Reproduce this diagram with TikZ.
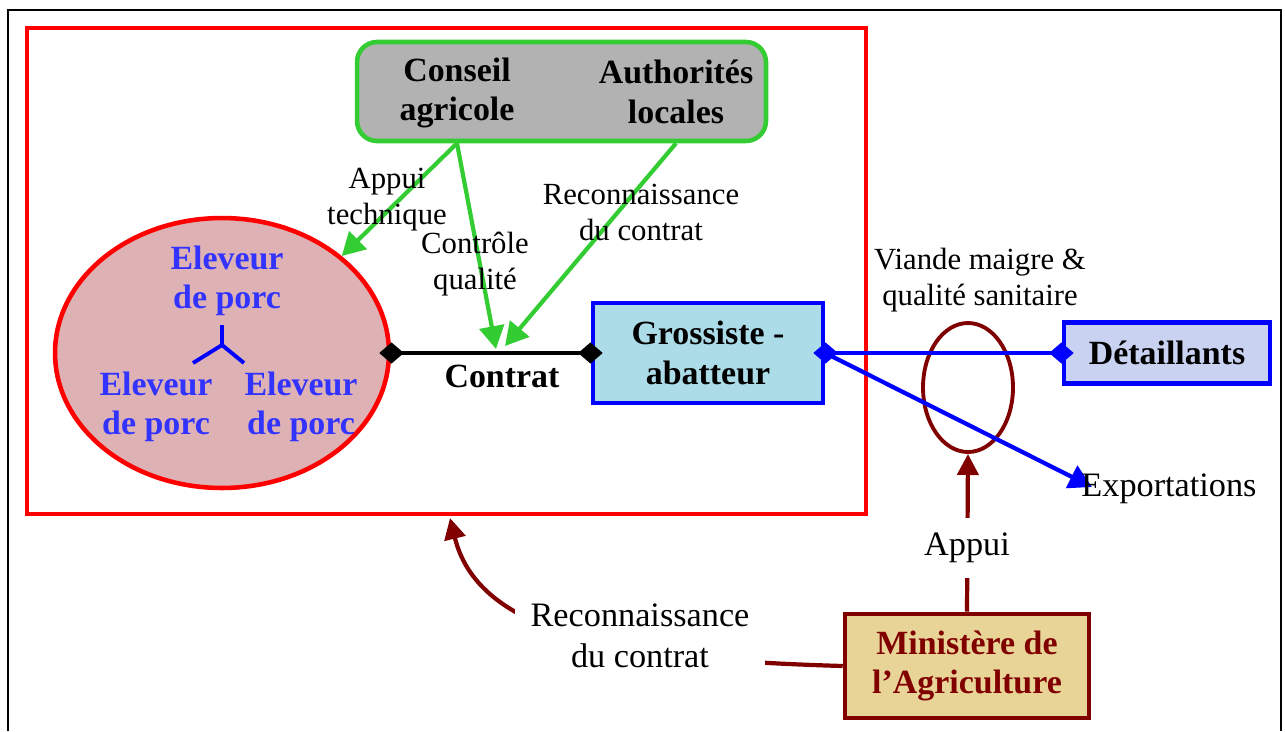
\documentclass[tikz,border=0pt]{standalone}
\usepackage{fontspec}
\setmainfont{Liberation Serif}
\usetikzlibrary{arrows.meta,calc,shapes.geometric}

\definecolor{vert}{RGB}{51,204,51}
\definecolor{gris}{RGB}{178,178,178}
\definecolor{rose}{RGB}{222,178,180}
\definecolor{bleutxt}{RGB}{51,51,255}
\definecolor{cyanfond}{RGB}{172,220,232}
\definecolor{lavande}{RGB}{202,210,242}
\definecolor{bordeaux}{RGB}{128,0,0}
\definecolor{dore}{RGB}{232,212,150}

\begin{document}
\begin{tikzpicture}[x=0.02cm,y=-0.02cm,
  gras/.style={font=\fontsize{19.3}{22.5}\selectfont\bfseries,align=center},
  etiq/.style={font=\fontsize{17.5}{20.5}\selectfont,align=center},
  etiqg/.style={font=\fontsize{19.5}{23.2}\selectfont,align=center},
  boite/.style={gras,line width=2.6pt},
  fleche verte/.style={draw=vert,line width=2.4pt,-{Triangle[length=13pt,width=14pt]}},
  fleche rouge/.style={draw=bordeaux,line width=2.4pt,-{Triangle[length=12pt,width=12pt]}},
  losanges/.style={line width=2.7pt,{Diamond[length=14pt,width=12pt]}-{Diamond[length=14pt,width=12pt]}}]
\useasboundingbox (0,0) rectangle (1285,731);

% Cadres.
\draw[line width=1.2pt] (8,731) -- (8,10) -- (1281,10) -- (1281,731);
\draw[red,line width=2.6pt] (27,28) rectangle (866,514);

\node[draw=vert,fill=gris,line width=2.6pt,rounded corners=0.4cm,
  minimum width=8.18cm,minimum height=1.98cm] (orgs) at (561.5,91.5) {};
\node[gras] (conseil) at (457,93) {Conseil\\agricole};
\node[gras] (autorites) at (676,92) {Authorités\\locales};

\node[ellipse,draw=red,fill=rose,line width=2.6pt,inner sep=0pt,
  minimum width=6.68cm,minimum height=5.4cm] (eleveurs) at (222,353) {};
\node[gras,text=bleutxt] (elev1) at (227,281) {Eleveur\\de porc};
\node[gras,text=bleutxt] (elev2) at (156,407) {Eleveur\\de porc};
\node[gras,text=bleutxt] (elev3) at (301,407) {Eleveur\\de porc};
\coordinate (centre) at (222,345);
\draw[blue,line width=2.2pt] (centre) -- ++(0,-20) (centre) -- ++(-29,18) (centre) -- ++(22,18);

\node[boite,draw=blue,fill=cyanfond,minimum width=4.6cm,minimum height=2cm] (grossiste) at (708,353) {Grossiste -\\abatteur};
\node[boite,draw=blue,fill=lavande,minimum width=4.12cm,minimum height=1.22cm] (detail) at (1167,353) {Détaillants};
\node[boite,draw=bordeaux,fill=dore,text=bordeaux,minimum width=4.88cm,minimum height=2.08cm] (ministere) at (967,666) {Ministère de\\l’Agriculture};
\node[ellipse,draw=bordeaux,line width=2.2pt,inner sep=0pt,
  minimum width=1.8cm,minimum height=2.58cm] (qualite) at (968,387.5) {};

% Fleches vertes.
\coordinate (cq) at (496,349);
\coordinate (rc) at (505,346);
\draw[fleche verte] (conseil |- orgs.south) -- (eleveurs.39);
\draw[fleche verte] (conseil |- orgs.south) -- (cq);
\draw[fleche verte] (autorites |- orgs.south) -- (rc);

\node[etiq] (appuitech) at (387,200) {Appui\\technique};
\node[etiq] (controle) at (475,264) {Contrôle\\qualité};
\node[etiq] (reco1) at (641,212) {Reconnaissance\\du contrat};
\node[etiq] (viande) at (980,280) {Viande maigre \&\\qualité sanitaire};

\draw[losanges] ($(eleveurs.east)+(-12,0)$) -- ($(grossiste.west)+(12,0)$);
\node[gras] (contrat) at (502,376) {Contrat};

\draw[losanges,blue] ($(grossiste.east)+(-12,0)$) -- ($(detail.west)+(12,0)$);
\coordinate (exp) at (1092,487);
\draw[blue,line width=2.4pt,-{Triangle[length=13pt,width=14pt]}] (grossiste.east) -- (exp);
\node[etiqg] (export) at (1169,489) {Exportations};

% Ministere.
\draw[fleche rouge] (ministere.north) -- (qualite.south);
\node[etiqg,fill=white,inner xsep=2pt,inner ysep=8.5pt] (appui) at (967,548) {Appui};

\coordinate (recotip) at (450,518);
\draw[fleche rouge] (ministere.west) .. controls +(-205,-6) and +(30,122) .. (recotip);
\node[etiqg,fill=white,inner sep=9pt] (reco2) at (640,636) {Reconnaissance\\du contrat};

\end{tikzpicture}
\end{document}
